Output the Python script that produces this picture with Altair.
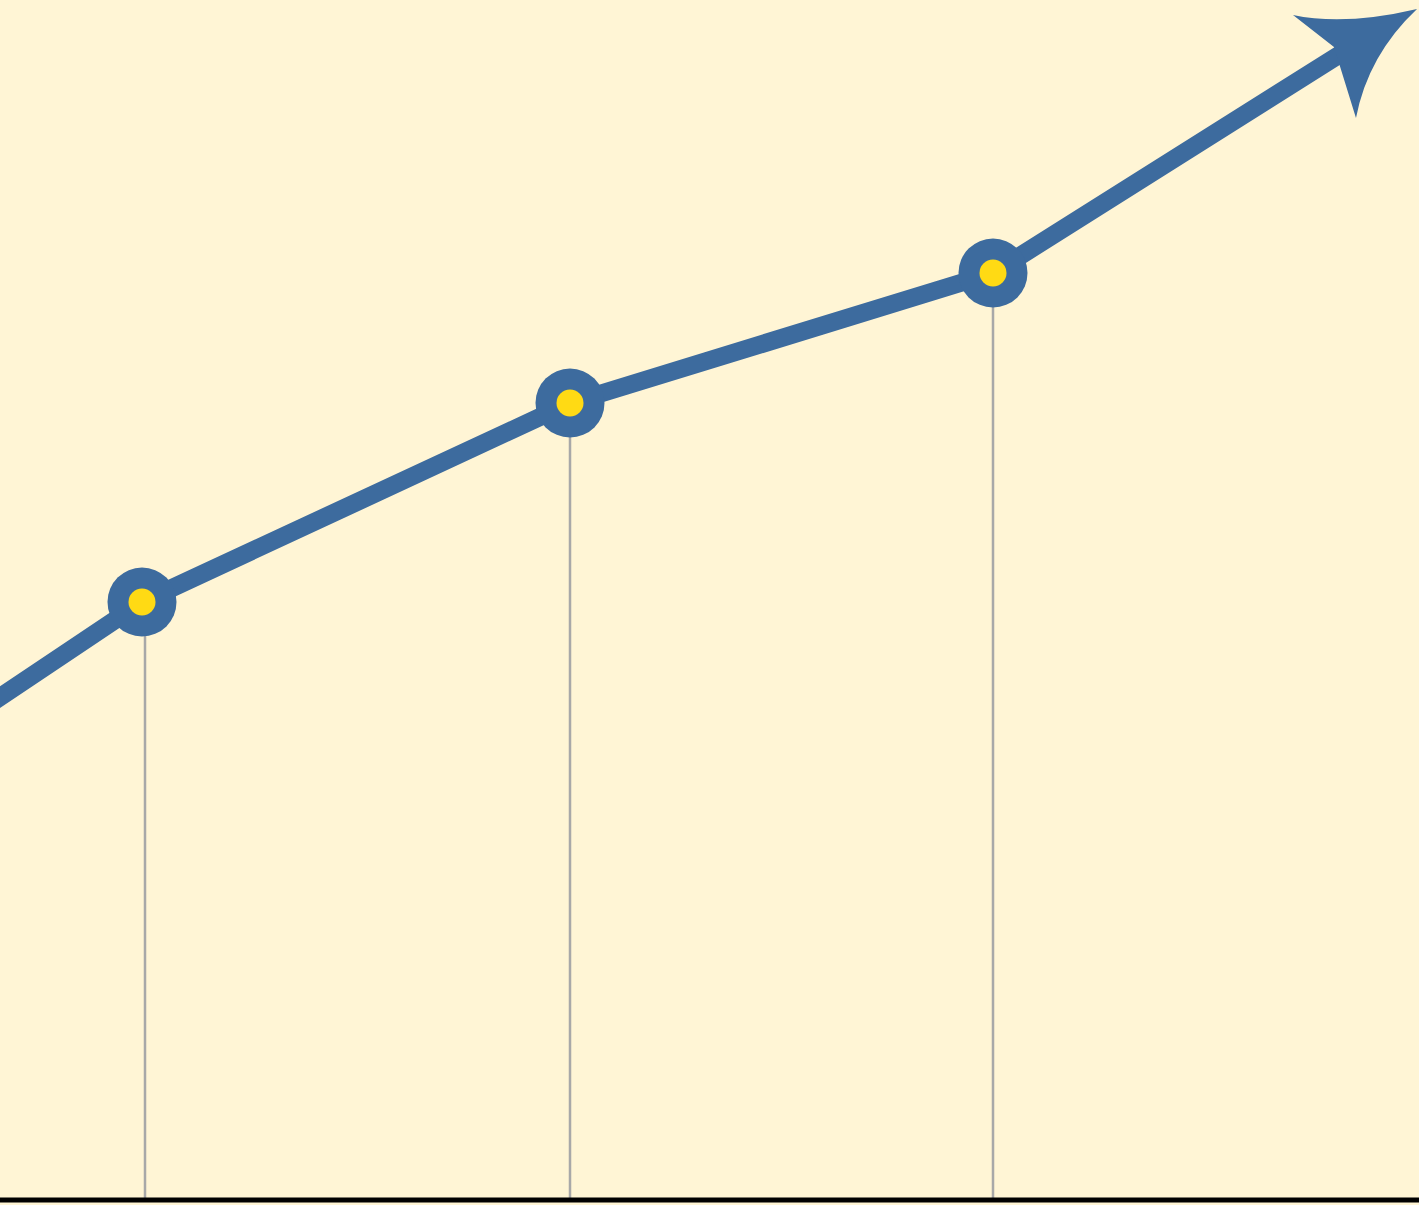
import altair as alt
import pandas as pd

# ---- data (x: horizontal units, y: height above baseline) ----
pt_x = [142, 570, 993]
pt_y = [598, 797, 927]
rule_x = [145, 570, 993]
line_x = [-40, 142, 570, 993, 1350]
line_y = [476, 598, 797, 927, 1152]
arrow_x = [1355]
arrow_y = [1140]
base_x = [0, 1419]
base_y = [0, 0]

BG = "#FFF5D5"
BLUE = "#3D6B9E"
YELLOW = "#FFDA14"
GRAY = "#A8A8A8"

xs = alt.Scale(domain=[0, 1419], nice=False, zero=False)
ys = alt.Scale(domain=[-5, 1200], nice=False, zero=False)

pts = pd.DataFrame({"x": pt_x, "y": pt_y})
rules = pd.DataFrame({"x": rule_x, "y": pt_y, "y0": [0] * len(rule_x)})
line = pd.DataFrame({"x": line_x, "y": line_y, "o": list(range(len(line_x)))})
arrow = pd.DataFrame({"x": arrow_x, "y": arrow_y})
base = pd.DataFrame({"x": base_x, "y": base_y})

X = lambda: alt.X("x:Q", scale=xs, axis=None)
Y = lambda: alt.Y("y:Q", scale=ys, axis=None)

rule_layer = alt.Chart(rules).mark_rule(color=GRAY, strokeWidth=2.5).encode(
    x=X(), y=Y(), y2="y0:Q"
)
base_layer = alt.Chart(base).mark_line(color="#000000", strokeWidth=5).encode(
    x=X(), y=Y()
)
line_layer = alt.Chart(line).mark_line(
    color=BLUE, strokeWidth=18, strokeCap="butt", strokeJoin="round", clip=True
).encode(x=X(), y=Y(), order="o:Q")
arrow_path = ("M -0.886,-0.643 Q -0.143,-0.486 0.886,-0.729 "
              "Q 0.186,-0.071 0.014,0.829 L -0.3,-0.186 Z")
arrow_layer = alt.Chart(arrow).mark_point(
    shape=arrow_path, filled=True, size=19600, color=BLUE, opacity=1, strokeWidth=0
).encode(x=X(), y=Y())
outer = alt.Chart(pts).mark_circle(size=4761, color=BLUE, opacity=1).encode(x=X(), y=Y())
inner = alt.Chart(pts).mark_circle(size=729, color=YELLOW, opacity=1).encode(x=X(), y=Y())

chart = alt.layer(rule_layer, base_layer, line_layer, arrow_layer, outer, inner).properties(
    width=1419, height=1205, background=BG, padding=0,
    autosize=alt.AutoSizeParams(type="none")
).configure_view(stroke=None, fill=BG)

chart.save("out.html", embed_options={"renderer": "svg", "actions": False})
